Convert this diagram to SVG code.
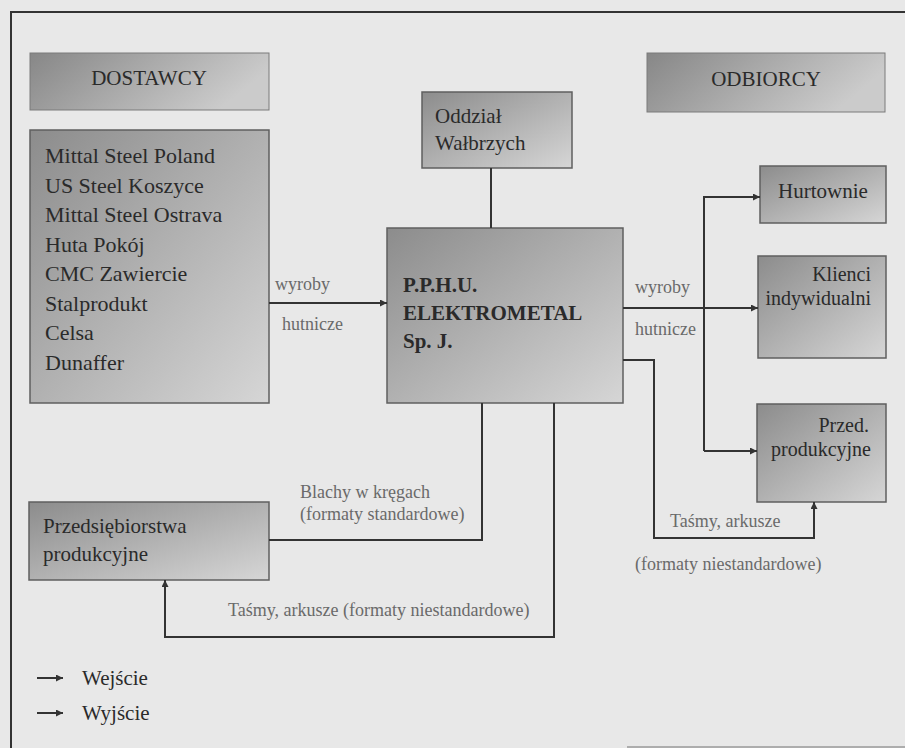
<svg xmlns="http://www.w3.org/2000/svg" width="905" height="748" viewBox="0 0 905 748">
<defs>
<linearGradient id="gBox" x1="0" y1="0" x2="1" y2="1">
<stop offset="0" stop-color="#8c8c8c"/>
<stop offset="1" stop-color="#d6d6d6"/>
</linearGradient>
<linearGradient id="gHead" x1="0" y1="0" x2="1" y2="0.3">
<stop offset="0" stop-color="#878787"/>
<stop offset="1" stop-color="#cbcbcb"/>
</linearGradient>
<marker id="arr" viewBox="0 0 10 10" refX="10" refY="5" markerWidth="9" markerHeight="7" markerUnits="userSpaceOnUse" orient="auto">
<path d="M0,0 L10,5 L0,10 z" fill="#333"/>
</marker>
</defs>
<style>
.box{fill:url(#gBox);stroke:#5f5f5f;stroke-width:1.5}
.head{fill:url(#gHead);stroke:#7a7a7a;stroke-width:1}
.t{font-family:"Liberation Serif","Times New Roman",serif;font-size:21px;fill:#2a2a2a}
.s{font-size:22px}
.k{font-size:20px}
.b{font-weight:bold}
.lbl{font-family:"Liberation Serif","Times New Roman",serif;font-size:18px;fill:#6a6a6a}
.ln{fill:none;stroke:#333;stroke-width:2}
</style>
<rect x="0" y="0" width="905" height="748" fill="#e8e8e8"/>
<path d="M905,12 H11 V748" fill="none" stroke="#333" stroke-width="2"/>
<path d="M627,747 H905" fill="none" stroke="#9a9a9a" stroke-width="1.5"/>

<g id="dostawcy">
<rect class="head" x="30" y="53" width="239" height="57"/>
<text class="t" x="149" y="85" text-anchor="middle">DOSTAWCY</text>
</g>
<g id="suppliers">
<rect class="box" x="30" y="130" width="239" height="273"/>
<text class="t s" x="45" y="163">Mittal Steel Poland</text>
<text class="t s" x="45" y="192.5">US Steel Koszyce</text>
<text class="t s" x="45" y="222">Mittal Steel Ostrava</text>
<text class="t s" x="45" y="251.5">Huta Pokój</text>
<text class="t s" x="45" y="281">CMC Zawiercie</text>
<text class="t s" x="45" y="310.5">Stalprodukt</text>
<text class="t s" x="45" y="340">Celsa</text>
<text class="t s" x="45" y="369.5">Dunaffer</text>
</g>
<g id="oddzial">
<rect class="box" x="422" y="92" width="150" height="76"/>
<text class="t" x="435" y="123">Oddział</text>
<text class="t" x="435" y="150">Wałbrzych</text>
</g>
<g id="elektrometal">
<rect class="box" x="387" y="228" width="236" height="175"/>
<text class="t b" x="403" y="292">P.P.H.U.</text>
<text class="t b" x="403" y="320">ELEKTROMETAL</text>
<text class="t b" x="403" y="348">Sp. J.</text>
</g>
<g id="odbiorcy">
<rect class="head" x="647" y="53" width="238" height="59"/>
<text class="t" x="766" y="86" text-anchor="middle">ODBIORCY</text>
</g>
<g id="hurtownie">
<rect class="box" x="760" y="166" width="126" height="57"/>
<text class="t" x="823" y="198" text-anchor="middle">Hurtownie</text>
</g>
<g id="klienci">
<rect class="box" x="758" y="256" width="128" height="102"/>
<text class="t k" x="871" y="281" text-anchor="end">Klienci</text>
<text class="t k" x="871" y="305" text-anchor="end">indywidualni</text>
</g>
<g id="przed">
<rect class="box" x="757" y="404" width="129" height="98"/>
<text class="t k" x="869" y="432" text-anchor="end">Przed.</text>
<text class="t k" x="871" y="456" text-anchor="end">produkcyjne</text>
</g>
<g id="przedsiebiorstwa">
<rect class="box" x="29" y="502" width="240" height="78"/>
<text class="t" x="43" y="533">Przedsiębiorstwa</text>
<text class="t" x="43" y="561">produkcyjne</text>
</g>

<g id="connectors">
<path class="ln" d="M269,303 H387" marker-end="url(#arr)"/>
<path class="ln" d="M491,168 V228"/>
<path class="ln" d="M623,308 H758" marker-end="url(#arr)"/>
<path class="ln" d="M704,451 V197 H760" marker-end="url(#arr)"/>
<path class="ln" d="M704,451 H757" marker-end="url(#arr)"/>
<path class="ln" d="M623,360 H654 V538 H814 V502" marker-end="url(#arr)"/>
<path class="ln" d="M482,403 V540 H269"/>
<path class="ln" d="M554,403 V637 H165 V580" marker-end="url(#arr)"/>
<text class="lbl" x="275" y="290">wyroby</text>
<text class="lbl" x="282" y="330">hutnicze</text>
<text class="lbl" x="635" y="293">wyroby</text>
<text class="lbl" x="635" y="335">hutnicze</text>
<text class="lbl" x="300" y="498">Blachy w kręgach</text>
<text class="lbl" x="300" y="520">(formaty standardowe)</text>
<text class="lbl" x="228" y="616">Taśmy, arkusze (formaty niestandardowe)</text>
<text class="lbl" x="670" y="527">Taśmy, arkusze</text>
<text class="lbl" x="635" y="570">(formaty niestandardowe)</text>
</g>

<g id="legend">
<path class="ln" d="M37,678 H63" marker-end="url(#arr)"/>
<path class="ln" d="M37,713 H63" marker-end="url(#arr)"/>
<text class="t" x="82" y="685">Wejście</text>
<text class="t" x="82" y="720">Wyjście</text>
</g>
</svg>
